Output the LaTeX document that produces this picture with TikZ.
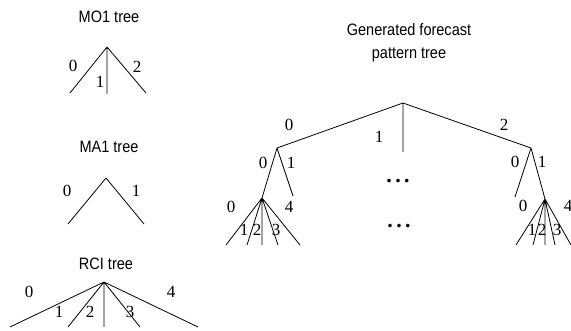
\documentclass[tikz,border=0pt]{standalone}
\usepackage{fontspec}
\setmainfont{Liberation Serif}
\newfontfamily\gothic[FakeStretch=0.88]{Liberation Sans}
\begin{document}
\begin{tikzpicture}[x=1pt,y=-1pt,
  edge/.style={draw=black,line width=0.8pt},
  lab/.style={inner sep=0pt,font=\fontsize{17}{17}\selectfont},
  ttl/.style={inner sep=0pt,align=center,font=\gothic\fontsize{16.5}{23}\selectfont},
  dotsnode/.style={inner sep=0pt,font=\fontsize{22}{22}\selectfont\bfseries}]
\useasboundingbox (0,0) rectangle (571,331);
% ---------- MO1 tree
\node[ttl] (t1) at (109,17) {MO1 tree};
\coordinate (a1) at (107,47);
\coordinate (a1e0) at (70,93);
\coordinate (a1e1) at (107,94);
\coordinate (a1e2) at (146,93);
\draw[edge] (a1) -- (a1e0) (a1) -- (a1e1) (a1) -- (a1e2);
\node[lab] (a1l0) at (73,66) {0};
\node[lab] (a1l1) at (100,82) {1};
\node[lab] (a1l2) at (137,67) {2};
% ---------- MA1 tree
\node[ttl] (t2) at (109,147) {MA1 tree};
\coordinate (a2) at (106,178);
\coordinate (a2e0) at (68,224);
\coordinate (a2e1) at (144,224);
\draw[edge] (a2) -- (a2e0) (a2) -- (a2e1);
\node[lab] (a2l0) at (67,191) {0};
\node[lab] (a2l1) at (136,191) {1};
% ---------- RCI tree
\node[ttl] (t3) at (106,264) {RCI tree};
\coordinate (a3) at (104,282);
\coordinate (a3e0) at (10,327);
\coordinate (a3e1) at (68,327);
\coordinate (a3e2) at (104,327);
\coordinate (a3e3) at (140,327);
\coordinate (a3e4) at (198,327);
\draw[edge] (a3) -- (a3e0) (a3) -- (a3e1) (a3) -- (a3e2) (a3) -- (a3e3) (a3) -- (a3e4);
\node[lab] (a3l0) at (29,292) {0};
\node[lab] (a3l1) at (59,312) {1};
\node[lab] (a3l2) at (90,312) {2};
\node[lab] (a3l3) at (130,312) {3};
\node[lab] (a3l4) at (171,292) {4};
% ---------- Generated forecast pattern tree
\node[ttl] (t4) at (409,43) {Generated forecast\\pattern tree};
\coordinate (r) at (403,103);
\coordinate (rL) at (277,148);
\coordinate (rM) at (403,152);
\coordinate (rR) at (531,148);
\draw[edge] (r) -- (rL) (r) -- (rM) (r) -- (rR);
\node[lab] (rl0) at (289,125) {0};
\node[lab] (rl1) at (379,137) {1};
\node[lab] (rl2) at (504,125) {2};
% left subtree
\coordinate (LL) at (262,198);
\coordinate (LR) at (293,196);
\draw[edge] (rL) -- (LL) (rL) -- (LR);
\node[lab] (Ll0) at (263,163) {0};
\node[lab] (Ll1) at (291,163) {1};
\coordinate (LLe0) at (226,245);
\coordinate (LLe1) at (247,245);
\coordinate (LLe2) at (262,245);
\coordinate (LLe3) at (278,245);
\coordinate (LLe4) at (300,245);
\draw[edge] (LL) -- (LLe0) (LL) -- (LLe1) (LL) -- (LLe2) (LL) -- (LLe3) (LL) -- (LLe4);
\node[lab] (LLl0) at (231,207) {0};
\node[lab] (LLl4) at (289,207) {4};
\node[lab] (LLl1) at (244,230) {1};
\node[lab] (LLl2) at (257,230) {2};
\node[lab] (LLl3) at (276,230) {3};
% right subtree
\coordinate (RL) at (515,197);
\coordinate (RR) at (545,199);
\draw[edge] (rR) -- (RL) (rR) -- (RR);
\node[lab] (Rl0) at (515,162) {0};
\node[lab] (Rl1) at (542,162) {1};
\coordinate (RRe0) at (516,245);
\coordinate (RRe1) at (533,245);
\coordinate (RRe2) at (545,245);
\coordinate (RRe3) at (555,245);
\coordinate (RRe4) at (571,245);
\draw[edge] (RR) -- (RRe0) (RR) -- (RRe1) (RR) -- (RRe2) (RR) -- (RRe3) (RR) -- (RRe4);
\node[lab] (RRl0) at (523,206) {0};
\node[lab] (RRl4) at (568,206) {4};
\node[lab] (RRl1) at (532,230) {1};
\node[lab] (RRl2) at (542,230) {2};
\node[lab] (RRl3) at (557,230) {3};
% dots
\node[dotsnode] (d1) at (398,181) {.\kern3.5pt.\kern3.5pt.};
\node[dotsnode] (d2) at (399,226) {.\kern3.5pt.\kern3.5pt.};
\end{tikzpicture}
\end{document}
